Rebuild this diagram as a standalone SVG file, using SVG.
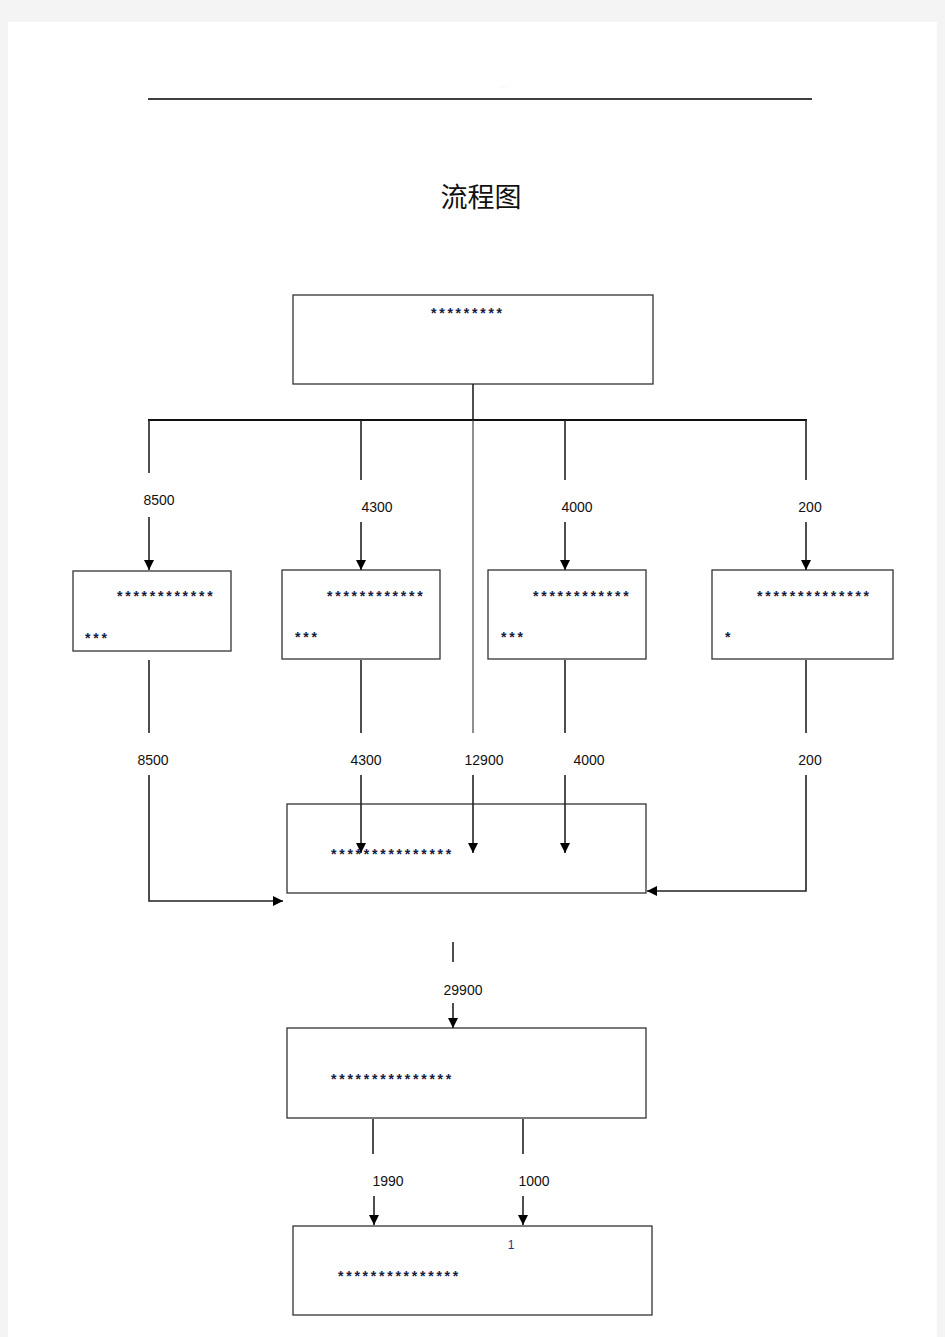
<svg xmlns="http://www.w3.org/2000/svg" width="945" height="1337" viewBox="0 0 945 1337">
<defs>
<marker id="ah" viewBox="0 0 10 10" refX="10" refY="5" markerWidth="10" markerHeight="10" markerUnits="userSpaceOnUse" orient="auto">
<path d="M0,0 L10,5 L0,10 z" fill="#000"/>
</marker>
<style>
.box{fill:#fff;stroke:#333;stroke-width:1.3}
.ln{fill:none;stroke:#222;stroke-width:1.6}
.lbl{font-family:"Liberation Sans",Arial,sans-serif;font-size:14px;fill:#111;text-anchor:middle}
.st{font-family:"Liberation Sans",Arial,sans-serif;font-size:14px;font-weight:bold;fill:#15203f;letter-spacing:2.75px}
</style>
</defs>
<rect x="0" y="0" width="945" height="1337" fill="#f4f4f4"/>
<rect x="8" y="22" width="929" height="1315" fill="#fff"/>
<line x1="148" y1="99" x2="812" y2="99" stroke="#000" stroke-width="1.6"/>
<text x="504" y="89" font-family="Liberation Sans, sans-serif" font-size="4" fill="#c88" text-anchor="middle">·  · ·</text>
<text x="481" y="207" font-family="Noto Sans CJK SC, sans-serif" font-size="27" fill="#111" text-anchor="middle">流程图</text>

<g id="n-top">
<rect class="box" x="293" y="295" width="360" height="89"/>
<text class="st" x="431" y="318">*********</text>
</g>
<g id="n-a">
<rect class="box" x="73" y="571" width="158" height="80"/>
<text class="st" x="117" y="601">************</text>
<text class="st" x="85" y="643">***</text>
</g>
<g id="n-b">
<rect class="box" x="282" y="570" width="158" height="89"/>
<text class="st" x="327" y="601">************</text>
<text class="st" x="295" y="642">***</text>
</g>
<g id="n-c">
<rect class="box" x="488" y="570" width="158" height="89"/>
<text class="st" x="533" y="601">************</text>
<text class="st" x="501" y="642">***</text>
</g>
<g id="n-d">
<rect class="box" x="712" y="570" width="181" height="89"/>
<text class="st" x="757" y="601">**************</text>
<text class="st" x="725" y="642">*</text>
</g>
<g id="n-mid">
<rect class="box" x="287" y="804" width="359" height="89"/>
<text class="st" x="331" y="859">***************</text>
</g>
<g id="n-sum">
<rect class="box" x="287" y="1028" width="359" height="90" stroke-width="2"/>
<text class="st" x="331" y="1084">***************</text>
</g>
<g id="n-bottom">
<rect class="box" x="293" y="1226" width="359" height="89"/>
<text x="511" y="1249" font-family="Liberation Sans, sans-serif" font-size="12" fill="#223388" text-anchor="middle">1</text>
<text class="st" x="338" y="1281">***************</text>
</g>

<g id="connectors">
<line class="ln" x1="473" y1="384" x2="473" y2="420"/>
<line x1="148" y1="420" x2="807" y2="420" stroke="#111" stroke-width="2"/>
<line class="ln" x1="149" y1="420" x2="149" y2="473"/>
<line class="ln" x1="361" y1="420" x2="361" y2="480"/>
<line class="ln" x1="565" y1="420" x2="565" y2="480"/>
<line class="ln" x1="806" y1="420" x2="806" y2="480"/>
<line x1="473" y1="420" x2="473" y2="733" stroke="#333" stroke-width="1.1"/>
<line class="ln" x1="149" y1="517" x2="149" y2="570" marker-end="url(#ah)"/>
<line class="ln" x1="361" y1="522" x2="361" y2="570" marker-end="url(#ah)"/>
<line class="ln" x1="565" y1="522" x2="565" y2="570" marker-end="url(#ah)"/>
<line class="ln" x1="806" y1="522" x2="806" y2="570" marker-end="url(#ah)"/>
<line class="ln" x1="149" y1="660" x2="149" y2="733"/>
<line class="ln" x1="361" y1="660" x2="361" y2="733"/>
<line class="ln" x1="565" y1="660" x2="565" y2="733"/>
<line class="ln" x1="806" y1="660" x2="806" y2="733"/>
<polyline class="ln" points="149,775 149,901 283,901" marker-end="url(#ah)"/>
<line class="ln" x1="361" y1="775" x2="361" y2="853" marker-end="url(#ah)"/>
<line class="ln" x1="473" y1="775" x2="473" y2="853" marker-end="url(#ah)"/>
<line class="ln" x1="565" y1="775" x2="565" y2="853" marker-end="url(#ah)"/>
<polyline class="ln" points="806,775 806,891 647,891" marker-end="url(#ah)"/>
<line class="ln" x1="453" y1="942" x2="453" y2="962"/>
<line class="ln" x1="453" y1="1003" x2="453" y2="1028" marker-end="url(#ah)"/>
<line class="ln" x1="373" y1="1119" x2="373" y2="1154"/>
<line class="ln" x1="523" y1="1119" x2="523" y2="1154"/>
<line class="ln" x1="374" y1="1196" x2="374" y2="1225" marker-end="url(#ah)"/>
<line class="ln" x1="523" y1="1196" x2="523" y2="1225" marker-end="url(#ah)"/>
<text class="lbl" x="159" y="505">8500</text>
<text class="lbl" x="377" y="512">4300</text>
<text class="lbl" x="577" y="512">4000</text>
<text class="lbl" x="810" y="512">200</text>
<text class="lbl" x="153" y="765">8500</text>
<text class="lbl" x="366" y="765">4300</text>
<text class="lbl" x="484" y="765">12900</text>
<text class="lbl" x="589" y="765">4000</text>
<text class="lbl" x="810" y="765">200</text>
<text class="lbl" x="463" y="995">29900</text>
<text class="lbl" x="388" y="1186">1990</text>
<text class="lbl" x="534" y="1186">1000</text>
</g>
</svg>
